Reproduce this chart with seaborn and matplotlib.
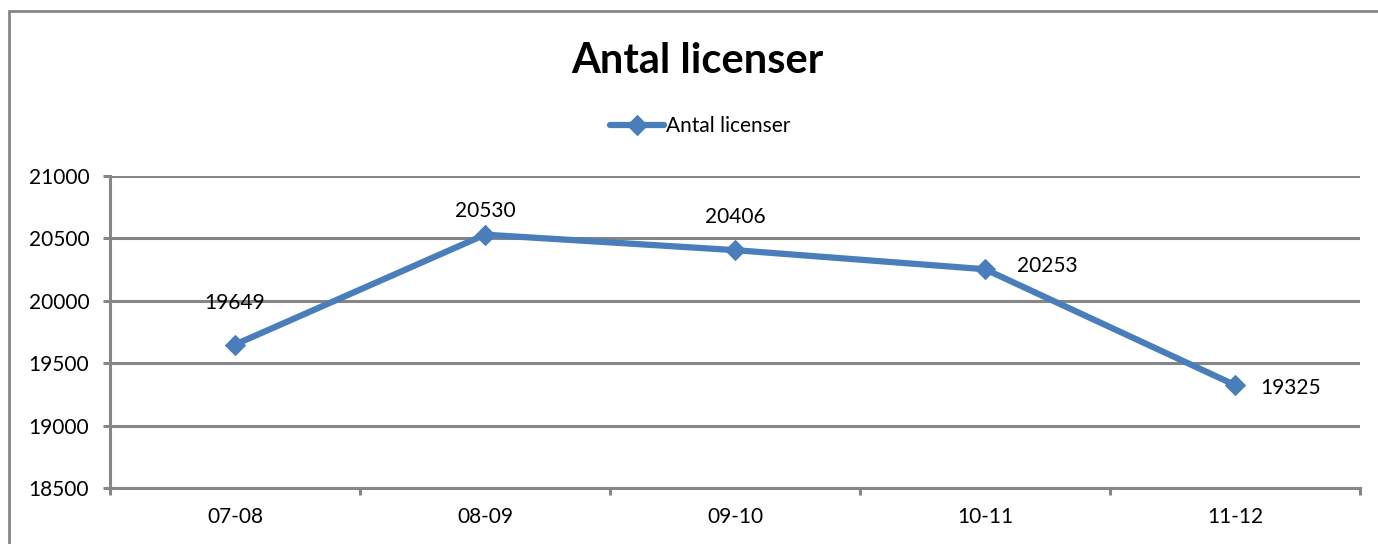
import pandas as pd
import numpy as np
import matplotlib.pyplot as plt
import matplotlib.patches as patches
import seaborn as sns

seasons = ["07-08", "08-09", "09-10", "10-11", "11-12"]
licenses = [19649, 20530, 20406, 20253, 19325]
y_ticks = [18500, 19000, 19500, 20000, 20500, 21000]

df = pd.DataFrame({"pos": range(len(seasons)), "Antal licenser": licenses})

sns.set_style("white")
plt.rcParams["font.family"] = ["Lato", "DejaVu Sans"]
plt.rcParams["text.color"] = "black"

grey = "#868686"
blue = "#4A7EBB"

fig = plt.figure(figsize=(13.78, 5.44), dpi=100)
ax = fig.add_axes([110 / 1378, 1 - 488 / 544, 1250 / 1378, 312 / 544])

sns.lineplot(data=df, x="pos", y="Antal licenser", ax=ax, color=blue, lw=4.5,
             marker="D", markersize=10, markeredgecolor=blue,
             label="Antal licenser", legend=False)

# data labels
offsets = [(0, 30), (0, 17), (0, 24), (45, 2), (40, -2)]
for i, (v, off) in enumerate(zip(licenses, offsets)):
    ax.annotate(str(v), (i, v), xytext=off, textcoords="offset points",
                ha="center", va="center", fontsize=15, color="black")

ax.set_xlim(-0.5, len(seasons) - 0.5)
ax.set_ylim(y_ticks[0], y_ticks[-1])
ax.set_yticks(y_ticks)
ax.set_xticks(range(len(seasons)))
ax.set_xticklabels(seasons)
ax.set_xticks(np.arange(-0.5, len(seasons)), minor=True)
ax.grid(axis="y", color=grey, lw=2.2)
ax.set_axisbelow(True)
ax.tick_params(axis="y", length=5, width=2.2, color=grey, labelsize=15, pad=10,
               left=True, labelcolor="black")
ax.tick_params(axis="x", which="major", length=0, labelsize=15, pad=14, labelcolor="black")
ax.tick_params(axis="x", which="minor", length=5, width=2.2, color=grey, bottom=True)
for s in ["top", "right"]:
    ax.spines[s].set_visible(False)
for s in ["left", "bottom"]:
    ax.spines[s].set_color(grey)
    ax.spines[s].set_linewidth(2.2)
ax.set_xlabel("")
ax.set_ylabel("")

fig.text(697 / 1378, 1 - 61 / 544, "Antal licenser", ha="center", va="center",
         fontsize=30, fontweight="bold", color="black")

leg = fig.legend(handles=ax.get_lines()[:1], labels=["Antal licenser"],
                 loc="center", bbox_to_anchor=(700 / 1378, 1 - 126 / 544),
                 frameon=False, fontsize=15, handlelength=2.6, handletextpad=0.1)

border = patches.Rectangle((9 / 1378, -0.2), 1.2, 1.2 - 11 / 544, transform=fig.transFigure,
                           fill=False, edgecolor=grey, lw=2, clip_on=False)
fig.patches.append(border)

fig.savefig("out.png", dpi=100)
